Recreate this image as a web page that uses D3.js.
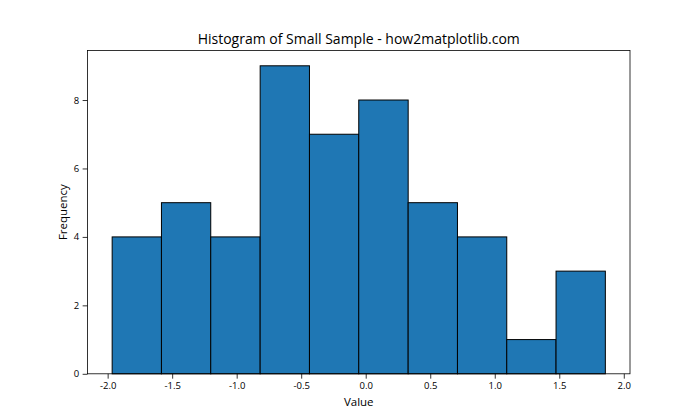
<!DOCTYPE html>
<html>
<head>
<meta charset="utf-8">
<script src="https://cdn.jsdelivr.net/npm/d3@7"></script>
<style>
  html, body { margin: 0; padding: 0; background: #fff; }
  svg { display: block; }
  text { font-family: "Open Sans", "Noto Sans", sans-serif; fill: #000; }
</style>
</head>
<body>
<svg id="chart" width="700" height="420"></svg>
<script>
// Histogram bin edges and counts
const binEdges = [-1.965, -1.583, -1.201, -0.818, -0.436, -0.054, 0.329, 0.711, 1.093, 1.475, 1.857];
const counts = [4, 5, 4, 9, 7, 8, 5, 4, 1, 3];
const xTicks = [-2.0, -1.5, -1.0, -0.5, 0.0, 0.5, 1.0, 1.5, 2.0];
const yTicks = [0, 2, 4, 6, 8];
const titleText = "Histogram of Small Sample - how2matplotlib.com";
const xLabel = "Value";
const yLabel = "Frequency";

const W = 700, H = 420;
const mLeft = 87.5, mRight = 630, mTop = 50.4, mBottom = 373.8;

const bins = counts.map((c, i) => ({x0: binEdges[i], x1: binEdges[i + 1], count: c}));
const xmin = binEdges[0], xmax = binEdges[binEdges.length - 1];
const pad = (xmax - xmin) * 0.05;
const x = d3.scaleLinear().domain([xmin - pad, xmax + pad]).range([mLeft, mRight]);
const ymax = d3.max(counts) * 1.05;
const y = d3.scaleLinear().domain([0, ymax]).range([mBottom, mTop]);

const svg = d3.select("#chart");

svg.append("g").selectAll("rect").data(bins).join("rect")
  .attr("x", d => x(d.x0))
  .attr("y", d => y(d.count))
  .attr("width", d => x(d.x1) - x(d.x0))
  .attr("height", d => y(0) - y(d.count))
  .attr("fill", "#1f77b4")
  .attr("stroke", "#000")
  .attr("stroke-width", 1);

const fmt = d => d.toFixed(1);
const xAxis = d3.axisBottom(x).tickValues(xTicks).tickFormat(fmt).tickSizeOuter(0).tickSize(4.86).tickPadding(3.5);
const yAxis = d3.axisLeft(y).tickValues(yTicks).tickFormat(d3.format("d")).tickSizeOuter(0).tickSize(4.86).tickPadding(3.5);

const gx = svg.append("g").attr("transform", `translate(0,${mBottom})`).call(xAxis);
const gy = svg.append("g").attr("transform", `translate(${mLeft},0)`).call(yAxis);
[gx, gy].forEach(g => {
  g.select(".domain").remove();
  g.selectAll(".tick line").attr("stroke", "#000").attr("stroke-width", 0.8);
  g.selectAll(".tick text").attr("font-family", "'Open Sans', 'Noto Sans', sans-serif").attr("font-size", 9.5).attr("fill", "#000");
});

// frame
svg.append("rect").attr("x", mLeft).attr("y", mTop).attr("width", mRight - mLeft).attr("height", mBottom - mTop)
  .attr("fill", "none").attr("stroke", "#000").attr("stroke-width", 0.8);

svg.append("text").attr("x", (mLeft + mRight) / 2).attr("y", 44).attr("text-anchor", "middle")
  .attr("font-size", 14).text(titleText);
svg.append("text").attr("x", (mLeft + mRight) / 2).attr("y", 406).attr("text-anchor", "middle")
  .attr("font-size", 11.5).text(xLabel);
svg.append("text").attr("transform", `translate(67,${(mTop + mBottom) / 2}) rotate(-90)`).attr("text-anchor", "middle")
  .attr("font-size", 11.5).text(yLabel);
</script>
</body>
</html>
